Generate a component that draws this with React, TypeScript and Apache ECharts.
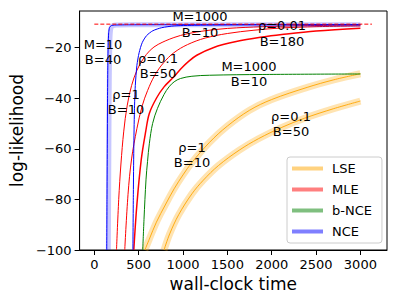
import React, { useEffect, useRef } from 'react';
import * as echarts from 'echarts';

// ---- data (wall-clock time, log-likelihood) ----
const xTicks = [0, 500, 1000, 1500, 2000, 2500, 3000];
const yTicks = [-100, -80, -60, -40, -20];
const optimum = [[0, -10.7], [3130, -10.7]];

const lseRho1B10 = [[570, -100], [620, -95.7], [700, -89], [800, -82.2], [900, -75.8], [1000, -70.3], [1100, -65.4], [1300, -57.4], [1500, -51], [1750, -44.75], [2000, -40.5], [2400, -35.7], [2700, -32.7], [3000, -30.3]];
const lseRho01B50 = [[786, -100], [850, -93.6], [952, -86], [1100, -77.8], [1229, -72.4], [1400, -66.6], [1635, -60.5], [1850, -56], [2115, -51.5], [2370, -47.9], [2700, -44.1], [3000, -41.1]];

const mleRho1B10 = [[250, -100], [275, -80], [300, -66], [332, -53], [370, -43], [420, -35], [480, -29], [550, -24.5], [630, -21], [720, -18.7], [897, -16], [1050, -14.5], [1250, -13.3], [1500, -12.4], [1900, -11.7], [2400, -11.3], [3000, -11.0]];
const mleRho01B50 = [[343, -100], [380, -78], [420, -64], [480, -52], [540, -43], [600, -37], [680, -31], [780, -26], [897, -22], [1050, -18.8], [1250, -16.2], [1500, -14.4], [1800, -13.1], [2115, -12.2], [2500, -11.7], [3000, -11.4]];
const mleRho001B180 = [[445, -100], [480, -82], [530, -64], [580, -53], [620, -46], [700, -40], [786, -35.5], [897, -31.5], [971, -28.5], [1060, -25.5], [1155, -23], [1340, -20], [1600, -17.6], [1894, -15.8], [2115, -14.8], [2500, -13.4], [3000, -12.3]];

const bnceM1000B10 = [[546, -100], [560, -88], [583, -72], [600, -65], [620, -58], [657, -50], [712, -44], [786, -38.5], [842, -35.5], [900, -33.5], [971, -32.2], [1100, -31.3], [1300, -30.9], [1900, -30.6], [3000, -30.4]];

const nceM10B40 = [[140, -100], [143, -80], [146, -60], [149, -40], [152, -28], [156, -19], [162, -14], [172, -12], [190, -11.3], [230, -11.05], [400, -10.95], [1000, -10.9], [3000, -10.9]];
const nceM10B40Spread = [[158, -100], [161, -80], [164, -60], [167, -40], [170, -28], [174, -19], [180, -14], [190, -12], [208, -11.3], [248, -11.05], [420, -10.95], [1000, -10.9], [3000, -10.9]];
const nceM1000B10 = [[435, -100], [440, -78], [445, -60], [452, -45], [462, -35], [480, -27], [505, -22], [540, -18], [590, -15.2], [660, -13.3], [760, -12.1], [900, -11.4], [1200, -11.1], [1800, -10.95], [3000, -10.9]];

const annotations = [
  { text: 'M=10\nB=40', x: 103, y: 52 },
  { text: 'M=1000\nB=10', x: 200, y: 24.5 },
  { text: 'ρ=1\nB=10', x: 126, y: 102 },
  { text: 'ρ=0.1\nB=50', x: 158, y: 66 },
  { text: 'ρ=0.01\nB=180', x: 282, y: 33.5 },
  { text: 'M=1000\nB=10', x: 249, y: 74 },
  { text: 'ρ=1\nB=10', x: 192, y: 155 },
  { text: 'ρ=0.1\nB=50', x: 291, y: 124 },
];

const FONT = 'DejaVu Sans';
const ORANGE = '#FFA500';
const RED = '#FF0000';
const GREEN = '#008000';
const BLUE = '#0000FF';

function line(name: string, data: number[][], color: string, width: number, opacity = 1, extra: any = {}, smooth: any = 0.35) {
  return {
    type: 'line',
    name,
    data,
    color,
    showSymbol: false,
    symbol: 'none',
    smooth,
    lineStyle: { color, width, opacity, ...extra },
    emphasis: { disabled: true },
    silent: true,
  };
}

const minus = (v: number) => String(v).replace('-', '\u2212');

export default function App() {
  const ref = useRef<HTMLDivElement>(null);
  useEffect(() => {
    if (!ref.current) return;
    const chart = echarts.init(ref.current, undefined, { renderer: 'svg' });
    const option: any = {
      animation: false,
      backgroundColor: '#fff',
      grid: { left: 74, right: 12, top: 11, bottom: 49, show: true, borderColor: '#000', borderWidth: 1, backgroundColor: 'transparent' },
      xAxis: {
        type: 'value', min: -166, max: 3300,
        name: 'wall-clock time', nameLocation: 'middle', nameGap: 21,
        nameTextStyle: { fontFamily: FONT, fontSize: 17, color: '#000' },
        axisLine: { show: true, onZero: false, lineStyle: { color: '#000', width: 1 } },
        axisTick: { show: true, inside: false, length: 5, customValues: xTicks, lineStyle: { color: '#000' } },
        axisLabel: { customValues: xTicks, margin: 8, fontFamily: FONT, fontSize: 13, color: '#000', formatter: minus },
        splitLine: { show: false },
      },
      yAxis: {
        type: 'value', min: -100, max: -5.5,
        name: 'log-likelihood', nameLocation: 'middle', nameGap: 47,
        nameTextStyle: { fontFamily: FONT, fontSize: 17, color: '#000' },
        axisLine: { show: true, onZero: false, lineStyle: { color: '#000', width: 1 } },
        axisTick: { show: true, inside: false, length: 5, customValues: yTicks, lineStyle: { color: '#000' } },
        axisLabel: { customValues: yTicks, margin: 8, fontFamily: FONT, fontSize: 13, color: '#000', formatter: minus },
        splitLine: { show: false },
      },
      legend: {
        data: [
          { name: 'LSE', itemStyle: { color: 'rgba(255,165,0,0.5)' } },
          { name: 'MLE', itemStyle: { color: 'rgba(255,0,0,0.5)' } },
          { name: 'b-NCE', itemStyle: { color: 'rgba(0,128,0,0.5)' } },
          { name: 'NCE', itemStyle: { color: 'rgba(0,0,255,0.5)' } },
        ],
        selectedMode: false,
        orient: 'vertical',
        left: 287, top: 157,
        icon: 'rect', itemWidth: 31, itemHeight: 4, itemGap: 8,
        padding: [5, 10, 5, 5],
        backgroundColor: 'rgba(255,255,255,0.8)',
        borderColor: '#cccccc', borderWidth: 1, borderRadius: 3,
        textStyle: { fontFamily: FONT, fontSize: 13, color: '#000', padding: [0, 0, 0, 4] },
      },
      series: [
        line('LSE', lseRho1B10, ORANGE, 7, 0.3),
        line('LSE', lseRho1B10, ORANGE, 1, 0.9),
        line('LSE', lseRho01B50, ORANGE, 7, 0.3),
        line('LSE', lseRho01B50, ORANGE, 1, 0.9),
        line('MLE', mleRho1B10, RED, 1),
        line('MLE', mleRho01B50, RED, 1),
        line('MLE', mleRho001B180, RED, 1.5),
        line('b-NCE', bnceM1000B10, GREEN, 1),
        line('NCE', nceM10B40Spread, BLUE, 5, 0.22, {}, 0.2),
        line('NCE', nceM10B40, BLUE, 1, 1, {}, 0.2),
        line('NCE', nceM1000B10, BLUE, 1, 1, {}, 0.25),
        line('opt', optimum, RED, 1, 1, { type: [4, 2] }, false),
      ],
      graphic: annotations.map((a) => ({
        type: 'text', x: a.x, y: a.y, silent: true, z: 100,
        style: { text: a.text, font: '13px "DejaVu Sans"', fontFamily: FONT, fontSize: 13, lineHeight: 15.5, fill: '#000', align: 'center', verticalAlign: 'middle' },
      })),
    };
    chart.setOption(option);
    return () => chart.dispose();
  }, []);
  return <div ref={ref} style={{ position: 'fixed', left: 0, top: 0, width: 399, height: 299 }} />;
}
